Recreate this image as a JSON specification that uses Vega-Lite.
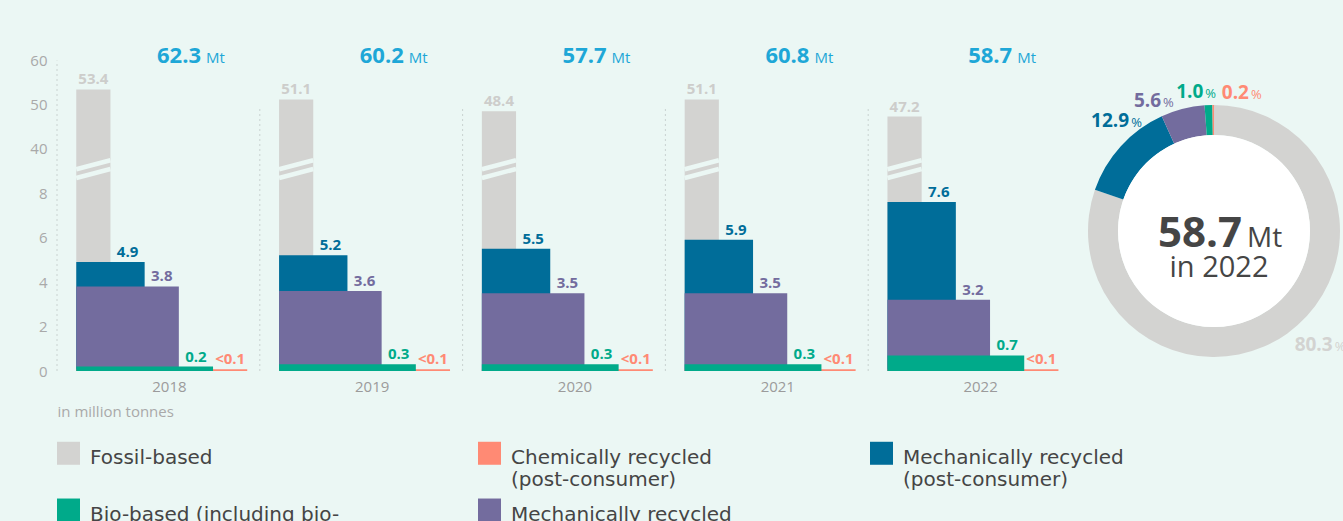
{
  "$schema": "https://vega.github.io/schema/vega-lite/v6.json",
  "background": "#ebf7f4",
  "padding": {"left": 7, "top": 43, "right": 0, "bottom": 0},
  "config": {
    "view": {"stroke": null},
    "font": "Open Sans",
    "axisY": {"domain": false, "ticks": false, "labelColor": "#a9a9a9", "labelFontSize": 15, "labelPadding": 10, "gridColor": "#c9d2d0", "gridDash": [2, 3], "minExtent": 50, "maxExtent": 50},
    "axisX": {"domain": false, "ticks": false, "grid": false, "labelColor": "#9b9b9b", "labelFontSize": 15, "labelPadding": 8, "labelOffset": 11, "labelAngle": 0, "titleColor": "#a9a9a9", "titleFontSize": 15, "titleFontWeight": "normal", "titleAnchor": "start", "titleAlign": "left", "titlePadding": 10}
  },
  "datasets": {
    "bars": [
      {"year": "2018", "cat": "Fossil-based", "value": 53.4, "label": "53.4"},
      {"year": "2018", "cat": "Mechanically recycled (post-consumer)", "value": 4.9, "label": "4.9"},
      {"year": "2018", "cat": "Mechanically recycled (pre-consumer)", "value": 3.8, "label": "3.8"},
      {"year": "2018", "cat": "Bio-based (including bio-attributed)", "value": 0.2, "label": "0.2"},
      {"year": "2018", "cat": "Chemically recycled (post-consumer)", "value": 0.08, "label": "<0.1"},
      {"year": "2019", "cat": "Fossil-based", "value": 51.1, "label": "51.1"},
      {"year": "2019", "cat": "Mechanically recycled (post-consumer)", "value": 5.2, "label": "5.2"},
      {"year": "2019", "cat": "Mechanically recycled (pre-consumer)", "value": 3.6, "label": "3.6"},
      {"year": "2019", "cat": "Bio-based (including bio-attributed)", "value": 0.3, "label": "0.3"},
      {"year": "2019", "cat": "Chemically recycled (post-consumer)", "value": 0.08, "label": "<0.1"},
      {"year": "2020", "cat": "Fossil-based", "value": 48.4, "label": "48.4"},
      {"year": "2020", "cat": "Mechanically recycled (post-consumer)", "value": 5.5, "label": "5.5"},
      {"year": "2020", "cat": "Mechanically recycled (pre-consumer)", "value": 3.5, "label": "3.5"},
      {"year": "2020", "cat": "Bio-based (including bio-attributed)", "value": 0.3, "label": "0.3"},
      {"year": "2020", "cat": "Chemically recycled (post-consumer)", "value": 0.08, "label": "<0.1"},
      {"year": "2021", "cat": "Fossil-based", "value": 51.1, "label": "51.1"},
      {"year": "2021", "cat": "Mechanically recycled (post-consumer)", "value": 5.9, "label": "5.9"},
      {"year": "2021", "cat": "Mechanically recycled (pre-consumer)", "value": 3.5, "label": "3.5"},
      {"year": "2021", "cat": "Bio-based (including bio-attributed)", "value": 0.3, "label": "0.3"},
      {"year": "2021", "cat": "Chemically recycled (post-consumer)", "value": 0.08, "label": "<0.1"},
      {"year": "2022", "cat": "Fossil-based", "value": 47.2, "label": "47.2"},
      {"year": "2022", "cat": "Mechanically recycled (post-consumer)", "value": 7.6, "label": "7.6"},
      {"year": "2022", "cat": "Mechanically recycled (pre-consumer)", "value": 3.2, "label": "3.2"},
      {"year": "2022", "cat": "Bio-based (including bio-attributed)", "value": 0.7, "label": "0.7"},
      {"year": "2022", "cat": "Chemically recycled (post-consumer)", "value": 0.08, "label": "<0.1"}
    ],
    "totals": [
      {"year": "2018", "total": "62.3"},
      {"year": "2019", "total": "60.2"},
      {"year": "2020", "total": "57.7"},
      {"year": "2021", "total": "60.8"},
      {"year": "2022", "total": "58.7"}
    ],
    "share": [
      {"cat": "Fossil-based", "pct": 80.3, "pctLabel": "80.3", "order": 1},
      {"cat": "Mechanically recycled (post-consumer)", "pct": 12.9, "pctLabel": "12.9", "order": 2},
      {"cat": "Mechanically recycled (pre-consumer)", "pct": 5.6, "pctLabel": "5.6", "order": 3},
      {"cat": "Bio-based (including bio-attributed)", "pct": 1.0, "pctLabel": "1.0", "order": 4},
      {"cat": "Chemically recycled (post-consumer)", "pct": 0.2, "pctLabel": "0.2", "order": 5}
    ]
  },
  "spacing": 1,
  "hconcat": [
    {
      "width": 1014,
      "height": 328,
      "layer": [
        {
          "data": {"name": "totals"},
          "transform": [{"filter": "datum.year != '2018'"}],
          "mark": {"type": "rule", "strokeDash": [2, 3], "color": "#c9d2d0", "strokeWidth": 1},
          "encoding": {
            "x": {"field": "year", "type": "ordinal", "bandPosition": 0, "scale": {"paddingInner": 0, "paddingOuter": 0}, "axis": {"title": "in million tonnes"}},
            "y": {"datum": 0, "type": "quantitative", "scale": {"type": "linear", "domain": [0, 8, 40, 64], "range": [328, 150, 105, 0], "zero": false, "nice": false}, "axis": {"values": [0, 2, 4, 6, 8, 40, 50, 60], "title": null}},
            "y2": {"datum": 49.5}
          }
        },
        {
          "data": {"name": "totals"},
          "transform": [{"filter": "datum.year == '2018'"}],
          "mark": {"type": "rule", "strokeDash": [2, 3], "color": "#c9d2d0", "strokeWidth": 1},
          "encoding": {
            "x": {"field": "year", "type": "ordinal", "bandPosition": 0},
            "y": {"datum": 0, "type": "quantitative"},
            "y2": {"datum": 60}
          }
        },
        {
          "data": {"name": "bars"},
          "transform": [{"filter": "datum.cat == 'Fossil-based'"}],
          "mark": {"type": "rect"},
          "encoding": {
            "x": {"field": "year", "type": "ordinal", "bandPosition": 0.095},
            "x2": {"field": "year", "bandPosition": 0.2636},
            "y": {"field": "value", "type": "quantitative", "title": null},
            "y2": {"datum": 0},
            "color": {
              "field": "cat", "type": "nominal",
              "scale": {
                "domain": ["Fossil-based", "Chemically recycled (post-consumer)", "Mechanically recycled (post-consumer)", "Bio-based (including bio-attributed)", "Mechanically recycled (pre-consumer)"],
                "range": ["#d3d3d1", "#ff8a74", "#006d99", "#00aa8a", "#736c9e"]
              },
              "legend": {
                "orient": "none", "legendX": 0, "legendY": 393, "direction": "horizontal", "columns": 3,
                "title": null, "symbolType": "M-1,-0.52H1V1.48H-1Z", "symbolSize": 529, "symbolStrokeWidth": 0, "symbolOpacity": 1,
                "labelFontSize": 20, "labelColor": "#454545", "labelFont": "DejaVu Sans", "labelOffset": 10, "labelBaseline": "top",
                "columnPadding": 138, "rowPadding": 3, "labelLimit": 400,
                "labelExpr": "indexof(datum.label, '(') < 0 ? [datum.label, ' '] : split(replace(replace(datum.label, 'cled (', 'cled\\n('), 'bio-a', 'bio-\\na'), '\\n')"
              }
            }
          }
        },
        {
          "data": {"name": "totals"},
          "mark": {"type": "rule", "color": "#ebf7f4", "strokeWidth": 4.5},
          "encoding": {
            "x": {"field": "year", "type": "ordinal", "bandPosition": 0.095},
            "x2": {"field": "year", "bandPosition": 0.2636},
            "y": {"datum": 24.9, "type": "quantitative"},
            "y2": {"datum": 31.3}
          }
        },
        {
          "data": {"name": "totals"},
          "mark": {"type": "rule", "color": "#ebf7f4", "strokeWidth": 4.5},
          "encoding": {
            "x": {"field": "year", "type": "ordinal", "bandPosition": 0.095},
            "x2": {"field": "year", "bandPosition": 0.2636},
            "y": {"datum": 18.7, "type": "quantitative"},
            "y2": {"datum": 25.1}
          }
        },
        {
          "data": {"name": "bars"},
          "transform": [{"filter": "datum.cat == 'Mechanically recycled (post-consumer)'"}],
          "mark": {"type": "rect"},
          "encoding": {
            "x": {"field": "year", "type": "ordinal", "bandPosition": 0.095},
            "x2": {"field": "year", "bandPosition": 0.4322},
            "y": {"field": "value", "type": "quantitative", "title": null},
            "y2": {"datum": 0},
            "color": {"field": "cat", "type": "nominal"}
          }
        },
        {
          "data": {"name": "bars"},
          "transform": [{"filter": "datum.cat == 'Mechanically recycled (pre-consumer)'"}],
          "mark": {"type": "rect"},
          "encoding": {
            "x": {"field": "year", "type": "ordinal", "bandPosition": 0.095},
            "x2": {"field": "year", "bandPosition": 0.6008},
            "y": {"field": "value", "type": "quantitative", "title": null},
            "y2": {"datum": 0},
            "color": {"field": "cat", "type": "nominal"}
          }
        },
        {
          "data": {"name": "bars"},
          "transform": [{"filter": "datum.cat == 'Chemically recycled (post-consumer)'"}],
          "mark": {"type": "rect"},
          "encoding": {
            "x": {"field": "year", "type": "ordinal", "bandPosition": 0.095},
            "x2": {"field": "year", "bandPosition": 0.938},
            "y": {"field": "value", "type": "quantitative", "title": null},
            "y2": {"datum": 0},
            "color": {"field": "cat", "type": "nominal"}
          }
        },
        {
          "data": {"name": "bars"},
          "transform": [{"filter": "datum.cat == 'Bio-based (including bio-attributed)'"}],
          "mark": {"type": "rect"},
          "encoding": {
            "x": {"field": "year", "type": "ordinal", "bandPosition": 0.095},
            "x2": {"field": "year", "bandPosition": 0.7694},
            "y": {"field": "value", "type": "quantitative", "title": null},
            "y2": {"datum": 0},
            "color": {"field": "cat", "type": "nominal"}
          }
        },
        {
          "data": {"name": "bars"},
          "transform": [{"filter": "datum.cat == 'Fossil-based'"}],
          "mark": {"type": "text", "fontSize": 15, "fontWeight": "bold", "baseline": "alphabetic", "dy": -5, "color": "#cdcdcb"},
          "encoding": {
            "x": {"field": "year", "type": "ordinal", "bandPosition": 0.1793},
            "y": {"field": "value", "type": "quantitative", "title": null},
            "text": {"field": "label"}
          }
        },
        {
          "data": {"name": "bars"},
          "transform": [{"filter": "datum.cat == 'Mechanically recycled (post-consumer)'"}],
          "mark": {"type": "text", "fontSize": 15, "fontWeight": "bold", "baseline": "alphabetic", "dy": -5},
          "encoding": {
            "x": {"field": "year", "type": "ordinal", "bandPosition": 0.3479},
            "y": {"field": "value", "type": "quantitative", "title": null},
            "text": {"field": "label"},
            "color": {"field": "cat", "type": "nominal"}
          }
        },
        {
          "data": {"name": "bars"},
          "transform": [{"filter": "datum.cat == 'Mechanically recycled (pre-consumer)'"}],
          "mark": {"type": "text", "fontSize": 15, "fontWeight": "bold", "baseline": "alphabetic", "dy": -5},
          "encoding": {
            "x": {"field": "year", "type": "ordinal", "bandPosition": 0.5165},
            "y": {"field": "value", "type": "quantitative", "title": null},
            "text": {"field": "label"},
            "color": {"field": "cat", "type": "nominal"}
          }
        },
        {
          "data": {"name": "bars"},
          "transform": [{"filter": "datum.cat == 'Bio-based (including bio-attributed)'"}],
          "mark": {"type": "text", "fontSize": 15, "fontWeight": "bold", "baseline": "alphabetic", "dy": -5},
          "encoding": {
            "x": {"field": "year", "type": "ordinal", "bandPosition": 0.6851},
            "y": {"field": "value", "type": "quantitative", "title": null},
            "text": {"field": "label"},
            "color": {"field": "cat", "type": "nominal"}
          }
        },
        {
          "data": {"name": "bars"},
          "transform": [{"filter": "datum.cat == 'Chemically recycled (post-consumer)'"}],
          "mark": {"type": "text", "fontSize": 15, "fontWeight": "bold", "baseline": "alphabetic", "dy": -5},
          "encoding": {
            "x": {"field": "year", "type": "ordinal", "bandPosition": 0.8537},
            "y": {"field": "value", "type": "quantitative", "title": null},
            "text": {"field": "label"},
            "color": {"field": "cat", "type": "nominal"}
          }
        },
        {
          "data": {"name": "totals"},
          "mark": {"type": "text", "fontSize": 22, "fontWeight": "bold", "baseline": "alphabetic", "align": "right", "dx": -1, "color": "#1ea7d7"},
          "encoding": {
            "x": {"field": "year", "type": "ordinal", "bandPosition": 0.715},
            "y": {"datum": 59.5, "type": "quantitative"},
            "text": {"field": "total"}
          }
        },
        {
          "data": {"name": "totals"},
          "mark": {"type": "text", "fontSize": 15, "baseline": "alphabetic", "align": "left", "dx": 4, "color": "#1ea7d7"},
          "encoding": {
            "x": {"field": "year", "type": "ordinal", "bandPosition": 0.715},
            "y": {"datum": 59.5, "type": "quantitative"},
            "text": {"value": "Mt"}
          }
        }
      ]
    },
    {
      "width": 266,
      "height": 376,
      "data": {"name": "share"},
      "layer": [
        {
          "mark": {"type": "arc", "outerRadius": 126, "innerRadius": 96},
          "encoding": {
            "theta": {"field": "pct", "type": "quantitative", "stack": true},
            "order": {"field": "order"},
            "color": {"field": "cat", "type": "nominal"}
          }
        },
        {
          "transform": [{"filter": "datum.order == 1"}],
          "mark": {"type": "arc", "radius": 96, "theta": 0, "theta2": 6.2832, "fill": "#ffffff", "stroke": null},
          "encoding": {}
        },
        {
          "transform": [{"filter": "datum.order == 1"}],
          "mark": {"type": "text", "fontSize": 42, "fontWeight": "bold", "align": "right", "baseline": "alphabetic", "dx": 28, "dy": 16, "color": "#454545"},
          "encoding": {"text": {"value": "58.7"}}
        },
        {
          "transform": [{"filter": "datum.order == 1"}],
          "mark": {"type": "text", "fontSize": 28, "align": "left", "baseline": "alphabetic", "dx": 33, "dy": 16, "color": "#454545"},
          "encoding": {"text": {"value": "Mt"}}
        },
        {
          "transform": [{"filter": "datum.order == 1"}],
          "mark": {"type": "text", "fontSize": 29, "align": "center", "baseline": "alphabetic", "dx": 5, "dy": 46, "color": "#454545"},
          "encoding": {"text": {"value": "in 2022"}}
        },
        {
          "mark": {"type": "text", "radius": 169, "thetaOffset": -0.1595, "align": "right", "baseline": "alphabetic", "fontSize": 19, "fontWeight": "bold"},
          "encoding": {
            "theta": {"field": "pct", "type": "quantitative", "stack": true},
            "order": {"field": "order"},
            "color": {"field": "cat", "type": "nominal"},
            "text": {"condition": {"test": "datum.order == 1", "field": "pctLabel"}, "value": ""}
          }
        },
        {
          "mark": {"type": "text", "radius": 169, "thetaOffset": -0.1595, "align": "left", "baseline": "alphabetic", "dx": 2, "fontSize": 13},
          "encoding": {
            "theta": {"field": "pct", "type": "quantitative", "stack": true},
            "order": {"field": "order"},
            "color": {"field": "cat", "type": "nominal"},
            "text": {"condition": {"test": "datum.order == 1", "value": "%"}, "value": ""}
          }
        },
        {
          "mark": {"type": "text", "radius": 134, "thetaOffset": 0.1466, "align": "right", "baseline": "alphabetic", "fontSize": 19, "fontWeight": "bold"},
          "encoding": {
            "theta": {"field": "pct", "type": "quantitative", "stack": true},
            "order": {"field": "order"},
            "color": {"field": "cat", "type": "nominal"},
            "text": {"condition": {"test": "datum.order == 2", "field": "pctLabel"}, "value": ""}
          }
        },
        {
          "mark": {"type": "text", "radius": 134, "thetaOffset": 0.1466, "align": "left", "baseline": "alphabetic", "dx": 2, "fontSize": 13},
          "encoding": {
            "theta": {"field": "pct", "type": "quantitative", "stack": true},
            "order": {"field": "order"},
            "color": {"field": "cat", "type": "nominal"},
            "text": {"condition": {"test": "datum.order == 2", "value": "%"}, "value": ""}
          }
        },
        {
          "mark": {"type": "text", "radius": 135, "thetaOffset": -0.1518, "align": "right", "baseline": "alphabetic", "fontSize": 19, "fontWeight": "bold"},
          "encoding": {
            "theta": {"field": "pct", "type": "quantitative", "stack": true},
            "order": {"field": "order"},
            "color": {"field": "cat", "type": "nominal"},
            "text": {"condition": {"test": "datum.order == 3", "field": "pctLabel"}, "value": ""}
          }
        },
        {
          "mark": {"type": "text", "radius": 135, "thetaOffset": -0.1518, "align": "left", "baseline": "alphabetic", "dx": 2, "fontSize": 13},
          "encoding": {
            "theta": {"field": "pct", "type": "quantitative", "stack": true},
            "order": {"field": "order"},
            "color": {"field": "cat", "type": "nominal"},
            "text": {"condition": {"test": "datum.order == 3", "value": "%"}, "value": ""}
          }
        },
        {
          "mark": {"type": "text", "radius": 133, "thetaOffset": -0.0363, "align": "right", "baseline": "alphabetic", "fontSize": 19, "fontWeight": "bold"},
          "encoding": {
            "theta": {"field": "pct", "type": "quantitative", "stack": true},
            "order": {"field": "order"},
            "color": {"field": "cat", "type": "nominal"},
            "text": {"condition": {"test": "datum.order == 4", "field": "pctLabel"}, "value": ""}
          }
        },
        {
          "mark": {"type": "text", "radius": 133, "thetaOffset": -0.0363, "align": "left", "baseline": "alphabetic", "dx": 2, "fontSize": 13},
          "encoding": {
            "theta": {"field": "pct", "type": "quantitative", "stack": true},
            "order": {"field": "order"},
            "color": {"field": "cat", "type": "nominal"},
            "text": {"condition": {"test": "datum.order == 4", "value": "%"}, "value": ""}
          }
        },
        {
          "mark": {"type": "text", "radius": 137, "thetaOffset": 0.2646, "align": "right", "baseline": "alphabetic", "fontSize": 19, "fontWeight": "bold"},
          "encoding": {
            "theta": {"field": "pct", "type": "quantitative", "stack": true},
            "order": {"field": "order"},
            "color": {"field": "cat", "type": "nominal"},
            "text": {"condition": {"test": "datum.order == 5", "field": "pctLabel"}, "value": ""}
          }
        },
        {
          "mark": {"type": "text", "radius": 137, "thetaOffset": 0.2646, "align": "left", "baseline": "alphabetic", "dx": 2, "fontSize": 13},
          "encoding": {
            "theta": {"field": "pct", "type": "quantitative", "stack": true},
            "order": {"field": "order"},
            "color": {"field": "cat", "type": "nominal"},
            "text": {"condition": {"test": "datum.order == 5", "value": "%"}, "value": ""}
          }
        }
      ]
    }
  ]
}
